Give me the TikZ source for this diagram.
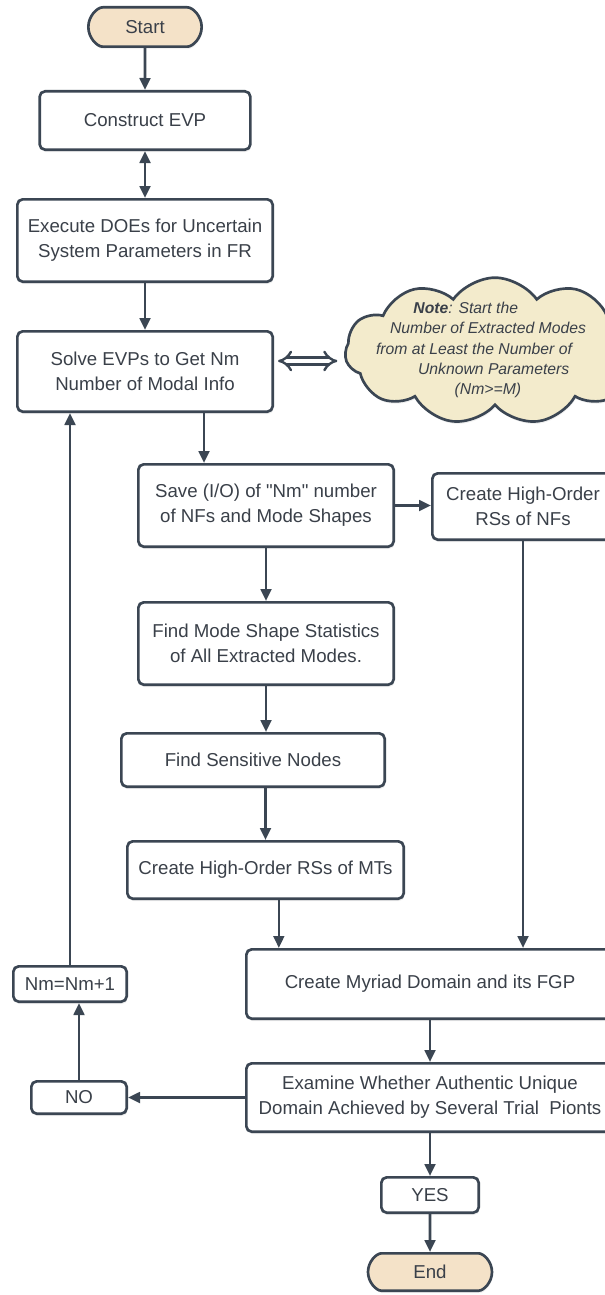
\documentclass[tikz,border=0pt]{standalone}
\usepackage{fontspec}
\setmainfont{Liberation Sans}
\usetikzlibrary{positioning, arrows.meta, shapes.misc, shapes.symbols, shadows}
\definecolor{linecol}{HTML}{3B4653}
\definecolor{textcol}{HTML}{3A4049}
\definecolor{termfill}{HTML}{F4E2C8}
\definecolor{notefill}{HTML}{F3EBCC}
\tikzset{
  process/.style={
    draw=linecol,
    line width=2pt,
    rectangle,
    rounded corners=4pt,
    fill=white,
    align=center,
    text=textcol,
    inner sep=2pt,
    font=\fontsize{14}{18.75}\selectfont,
    drop shadow={opacity=0.12, shadow xshift=0.6pt, shadow yshift=-1.8pt}
  },
  terminal/.style={
    process,
    rounded rectangle,
    fill=termfill
  },
  notecloud/.style={
    cloud,
    cloud puffs=11,
    cloud puff arc=110,
    draw=linecol,
    line width=2pt,
    fill=notefill,
    minimum width=225pt,
    minimum height=110pt,
    drop shadow={opacity=0.12, shadow xshift=0.6pt, shadow yshift=-1.8pt}
  },
  flow/.style={
    draw=linecol,
    line width=2pt,
    -{Triangle[length=9pt,width=8pt]}
  },
  implies/.style={
    draw=linecol,
    double=white,
    double distance=3.4pt,
    line width=1.8pt,
    {Implies}-{Implies}
  }
}

\begin{document}
\begin{tikzpicture}[x=0.75pt, y=-0.75pt]
        \useasboundingbox (0,0) rectangle (605,1295);
        % left column
        \node[terminal, minimum width=89pt, minimum height=29.5pt] (start) at (145,27) {Start};
        \node[process, minimum width=158pt, minimum height=43.75pt, below=31.5pt of start] (construct) {Construct EVP};
        \node[process, minimum width=191.5pt, minimum height=61.75pt, below=35.25pt of construct] (execute) {Execute DOEs for Uncertain\\System Parameters in FR};
        \node[process, minimum width=191.5pt, minimum height=60.25pt, below=35.25pt of execute] (solve) {Solve EVPs to Get Nm\\Number of Modal Info};

        % note
        \node[notecloud] (note) at (495,351) {};
        \node[text=textcol, align=left, font=\fontsize{11.8}{15.2}\selectfont\itshape] (notetxt) at (481,350)
          {\hspace*{28pt}\textbf{Note}: Start the\\
           \hspace*{10.5pt}Number of Extracted Modes\\
           from at Least the Number of\\
           \hspace*{31.5pt}Unknown Parameters\\
           \hspace*{59pt}(Nm>=M)};

        % middle column
        \node[process, minimum width=191.5pt, minimum height=61.75pt] (save) at (266,505.5) {Save (I/O) of \textquotedbl Nm\textquotedbl{} number\\of NFs and Mode Shapes};
        \node[process, minimum width=136pt, minimum height=49.75pt] (rsnf) at (523,506.5) {Create High-Order\\RSs of NFs};
        \node[process, minimum width=191.5pt, minimum height=61.75pt, below=39.75pt of save] (modes) {Find Mode Shape Statistics\\of All Extracted Modes.};
        \node[process, minimum width=197.5pt, minimum height=40pt] (sens) at (253,760) {Find Sensitive Nodes};
        \node[process, minimum width=207.25pt, minimum height=43pt] (rsmt) at (265.5,870) {Create High-Order RSs of MTs};

        % bottom
        \node[process, minimum width=275.5pt, minimum height=52pt] (myriad) at (430,984) {Create Myriad Domain and its FGP};
        \node[process, minimum width=275.5pt, minimum height=51.25pt, below=31.5pt of myriad] (examine) {Examine Whether Authentic Unique\\Domain Achieved by Several Trial\ \ Pionts};
        \node[process, minimum width=71.5pt, minimum height=24.25pt] (no) at (79,1097.5) {NO};
        \node[process, minimum width=85pt, minimum height=26.5pt] (incr) at (70,984) {Nm=Nm+1};
        \node[process, minimum width=73pt, minimum height=26.5pt, below=32.25pt of examine] (yes) {YES};
        \node[terminal, minimum width=97pt, minimum height=28pt, below=28.5pt of yes] (end) {End};

        \coordinate (tip) at ([yshift=7.9pt]solve.east);

        \draw[flow] (start) -- (construct);
        \draw[flow, {Triangle[length=9pt,width=8pt]}-{Triangle[length=9pt,width=8pt]}] (construct) -- (execute);
        \draw[flow] (execute) -- (solve);
        \draw[implies, shorten <=3pt, shorten >=5pt] (tip) -- (tip -| note.west);
        \draw[flow] ([xshift=44.25pt]solve.south) -- ([xshift=44.25pt]solve.south |- save.north);
        \draw[flow] (save.east) -- (save.east -| rsnf.west);
        \draw[flow] (save) -- (modes);
        \draw[flow] (modes.south) -- (modes.south |- sens.north);
        \draw[flow] (rsmt.north |- sens.south) -- (rsmt.north);
        \draw[flow] ([xshift=10pt]rsmt.south) -- ([xshift=10pt]rsmt.south |- myriad.north);
        \draw[flow] (rsnf.south) -- (rsnf.south |- myriad.north);
        \draw[flow] (myriad) -- (examine);
        \draw[flow] (examine.west) -- (no.east);
        \draw[flow] (no.north) -- (no.north |- incr.south);
        \draw[flow] (incr.north) -- (incr.north |- solve.south);
        \draw[flow] (examine) -- (yes);
        \draw[flow] (yes) -- (end);
      \end{tikzpicture}
\end{document}
